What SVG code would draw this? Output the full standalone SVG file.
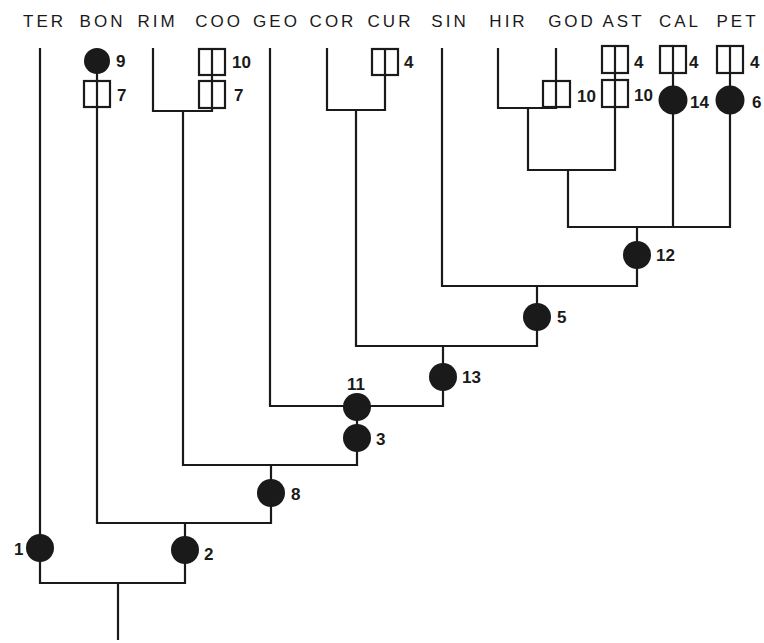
<svg xmlns="http://www.w3.org/2000/svg" width="764" height="643" viewBox="0 0 764 643">
<style>
.ln{stroke:#1a1a1a;stroke-width:2.2;fill:none}
.bx{stroke:#1a1a1a;stroke-width:2.2;fill:none}
.nd{fill:#1a1a1a}
.lab{font-family:"Liberation Sans",Arial,sans-serif;font-size:17px;letter-spacing:3px;fill:#1a1a1a;text-anchor:middle}
.num{font-family:"Liberation Sans",Arial,sans-serif;font-size:17px;font-weight:bold;fill:#1a1a1a}
</style>
<rect width="764" height="643" fill="#fff"/>
<g id="taxa">
<text class="lab" x="44.5" y="27">TER</text>
<text class="lab" x="102.5" y="27">BON</text>
<text class="lab" x="157.5" y="27">RIM</text>
<text class="lab" x="219" y="27">COO</text>
<text class="lab" x="276.5" y="27">GEO</text>
<text class="lab" x="333" y="27">COR</text>
<text class="lab" x="390.5" y="27">CUR</text>
<text class="lab" x="450" y="27">SIN</text>
<text class="lab" x="508.5" y="27">HIR</text>
<text class="lab" x="572" y="27">GOD</text>
<text class="lab" x="623.5" y="27">AST</text>
<text class="lab" x="680" y="27">CAL</text>
<text class="lab" x="737.5" y="27">PET</text>
</g>
<g id="connectors">
<path class="ln" d="M118 583V640"/>
<path class="ln" d="M40 48V583H185V523"/>
<path class="ln" d="M97 61V523H271V465"/>
<path class="ln" d="M153 48V111H212V49"/>
<path class="ln" d="M183 111V465H357V406"/>
<path class="ln" d="M270 48V406H443V346"/>
<path class="ln" d="M327 48V110H385V49"/>
<path class="ln" d="M356 110V346H537V286"/>
<path class="ln" d="M442 48V286H637V227"/>
<path class="ln" d="M568 170V227H730V46"/>
<path class="ln" d="M673 46V227"/>
<path class="ln" d="M498 48V108H556V48"/>
<path class="ln" d="M528 108V170H615V46"/>
</g>
<g id="n9"><circle class="nd" cx="97" cy="61" r="13"/><text class="num" x="116" y="67">9</text></g>
<g id="bon7"><rect class="bx" x="84" y="81" width="26" height="26"/><text class="num" x="117" y="101">7</text></g>
<g id="coo10"><rect class="bx" x="199" y="49" width="26" height="26"/><text class="num" x="232" y="68">10</text></g>
<g id="coo7"><rect class="bx" x="199" y="81" width="26" height="27"/><text class="num" x="234" y="101">7</text></g>
<g id="cur4"><rect class="bx" x="372" y="49" width="26" height="26"/><text class="num" x="404" y="68">4</text></g>
<g id="god10"><rect class="bx" x="543" y="81" width="27" height="26"/><text class="num" x="577" y="102">10</text></g>
<g id="ast4"><rect class="bx" x="602" y="46" width="26" height="27"/><text class="num" x="634" y="68">4</text></g>
<g id="ast10"><rect class="bx" x="602" y="80" width="26" height="27"/><text class="num" x="634" y="101">10</text></g>
<g id="cal4"><rect class="bx" x="660" y="46" width="26" height="27"/><text class="num" x="689" y="68">4</text></g>
<g id="n14"><circle class="nd" cx="673" cy="100" r="14.5"/><text class="num" x="690" y="108">14</text></g>
<g id="pet4"><rect class="bx" x="717" y="46" width="26" height="27"/><text class="num" x="750" y="68">4</text></g>
<g id="n6"><circle class="nd" cx="730" cy="100" r="14.5"/><text class="num" x="752" y="108">6</text></g>
<g id="n12"><circle class="nd" cx="637" cy="255" r="14"/><text class="num" x="656" y="261">12</text></g>
<g id="n5"><circle class="nd" cx="537" cy="317" r="14"/><text class="num" x="557" y="323">5</text></g>
<g id="n13"><circle class="nd" cx="443" cy="377" r="14"/><text class="num" x="462" y="383">13</text></g>
<g id="n11"><circle class="nd" cx="357" cy="407" r="14"/><text class="num" x="347" y="390">11</text></g>
<g id="n3"><circle class="nd" cx="357" cy="438" r="14"/><text class="num" x="376" y="445">3</text></g>
<g id="n8"><circle class="nd" cx="271" cy="493" r="14"/><text class="num" x="291" y="500">8</text></g>
<g id="n2"><circle class="nd" cx="185" cy="550" r="14"/><text class="num" x="204" y="560">2</text></g>
<g id="n1"><circle class="nd" cx="40" cy="548" r="14"/><text class="num" x="14" y="555">1</text></g>
</svg>
